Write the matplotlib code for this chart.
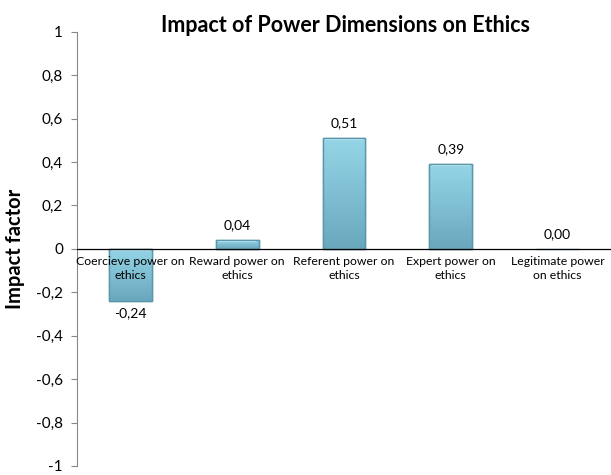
import matplotlib
matplotlib.use("Agg")
import matplotlib.pyplot as plt
import numpy as np
from matplotlib.colors import LinearSegmentedColormap

categories = ["Coercieve power on\nethics", "Reward power on\nethics", "Referent power on\nethics",
              "Expert power on\nethics", "Legitimate power\non ethics"]
values = [-0.24, 0.04, 0.51, 0.39, 0.00]
value_labels = ["-0,24", "0,04", "0,51", "0,39", "0,00"]
yticks = [-1, -0.8, -0.6, -0.4, -0.2, 0, 0.2, 0.4, 0.6, 0.8, 1]
ytick_labels = ["-1", "-0,8", "-0,6", "-0,4", "-0,2", "0", "0,2", "0,4", "0,6", "0,8", "1"]

plt.rcParams['font.family'] = ['Lato', 'DejaVu Sans']

fig = plt.figure(figsize=(6.11, 4.75), dpi=100)
ax = fig.add_axes([0.126, 0.019, 0.874, 0.914])
x = np.arange(len(categories))
ax.set_xlim(-0.5, len(categories) - 0.5)
ax.set_ylim(-1, 1)

cmap = LinearSegmentedColormap.from_list("g", ["#68a7bc", "#80bfd3", "#95d5e7"])
grad = np.linspace(0, 1, 256).reshape(-1, 1)
bars = ax.bar(x, values, width=0.4, color="#86c6d8", edgecolor="#5a97ab", linewidth=1.0, zorder=2)
for b, v in zip(bars, values):
    if abs(v) < 1e-9:
        continue
    x0, y0 = b.get_x(), b.get_y()
    w, h = b.get_width(), b.get_height()
    ylo, yhi = min(y0, y0 + h), max(y0, y0 + h)
    im = ax.imshow(grad, extent=[x0, x0 + w, ylo, yhi], origin="lower", cmap=cmap,
                   aspect="auto", zorder=2.5)
    im.set_clip_path(b)
    ax.plot([x0 + w * 0.05, x0 + w * 0.95], [yhi - 0.005, yhi - 0.005], color="#c4ecf6", lw=1.5,
            solid_capstyle="butt", zorder=3)
    ax.bar(b.get_x() + w / 2, h, bottom=y0, width=w, color="none", edgecolor="#5a97ab",
           linewidth=1.0, zorder=3.2)

ax.axhline(0, color="black", lw=0.9, zorder=4)

for xi, v, lab in zip(x, values, value_labels):
    if v < 0:
        ax.text(xi, v - 0.03, lab, ha="center", va="top", fontsize=10)
    else:
        ax.text(xi, v + 0.04, lab, ha="center", va="bottom", fontsize=10)

for xi, c in zip(x, categories):
    ax.text(xi, -0.035, c, ha="center", va="top", fontsize=8.8, linespacing=1.3, zorder=5)

ax.set_yticks(yticks)
ax.set_yticklabels(ytick_labels, fontsize=11)
ax.set_xticks([])
for s in ["top", "right", "bottom"]:
    ax.spines[s].set_visible(False)
ax.spines["left"].set_color("#888888")
ax.tick_params(axis="y", direction="out", length=4, color="#888888", pad=6)
ax.set_ylabel("Impact factor", fontsize=14.5, fontweight="bold", labelpad=8)
fig.text(0.565, 0.947, "Impact of Power Dimensions on Ethics", ha="center", va="center",
         fontsize=15.5, fontweight="bold")

fig.savefig("out.png", dpi=100)
